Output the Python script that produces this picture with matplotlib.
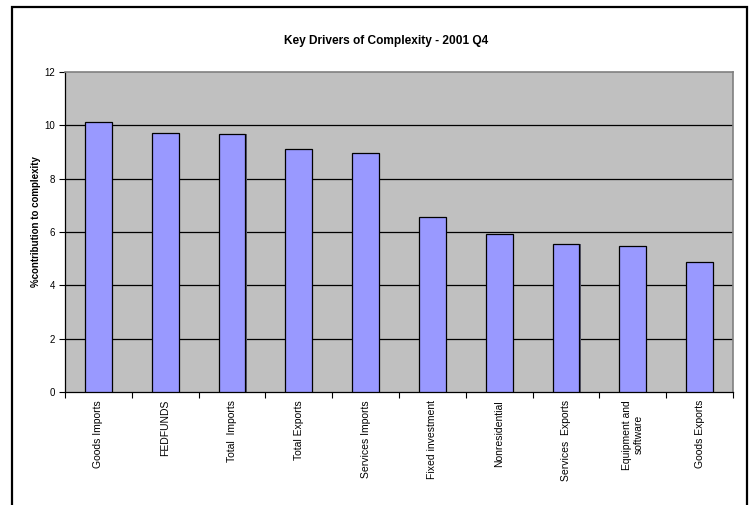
import matplotlib
matplotlib.use("Agg")
import matplotlib.pyplot as plt
from matplotlib.patches import Rectangle
import numpy as np

categories = ["Goods Imports", "FEDFUNDS", "Total  Imports", "Total Exports",
              "Services Imports", "Fixed investment", "Nonresidential",
              "Services  Exports", "Equipment and\nsoftware", "Goods Exports"]
values = [10.11, 9.73, 9.69, 9.10, 8.95, 6.57, 5.91, 5.56, 5.47, 4.86]
yticks = [0, 2, 4, 6, 8, 10, 12]
title = "Key Drivers of Complexity - 2001 Q4"
ylabel = "%contribution to complexity"

plt.rcParams['font.family'] = ['Liberation Sans', 'DejaVu Sans']

fig = plt.figure(figsize=(7.5, 5.05), dpi=100)
fig.patch.set_facecolor('white')

# outer chart border (open at bottom, extends past image)
fig.add_artist(Rectangle((12/750, -0.05), (747-12)/750, 1.05 - 7/505,
                         transform=fig.transFigure, fill=False,
                         edgecolor='black', linewidth=1.6))

ax = fig.add_axes([65/750, 1-392/505, (733-65)/750, (392-72)/505])
ax.set_facecolor('#C0C0C0')
x = np.arange(len(categories))
w = 0.4
# shadow
ax.bar(x + 0.02, values, width=w, color='#5a5a6a', edgecolor='none', zorder=2)
ax.bar(x, values, width=w, color='#9999FF', edgecolor='black', linewidth=0.9, zorder=3)

ax.set_xlim(-0.5, len(categories) - 0.5)
ax.set_ylim(0, 12)
ax.set_yticks(yticks)
ax.set_yticklabels([str(v) for v in yticks], fontsize=7)
for v in yticks[1:-1]:
    ax.axhline(v, color='black', linewidth=0.9, zorder=1)

ax.set_xticks(np.arange(len(categories) + 1) - 0.5)
ax.set_xticklabels([])
ax.tick_params(axis='x', direction='out', length=4, width=0.8, color='black')
ax.tick_params(axis='y', direction='out', length=4, width=0.8, color='black', pad=3)

for i, c in enumerate(categories):
    ax.text(i, -0.3, c, rotation=90, ha='center', va='top', fontsize=7.5,
            multialignment='center', transform=ax.transData)

for s in ['top', 'right']:
    ax.spines[s].set_color('#808080')
    ax.spines[s].set_linewidth(1.2)
for s in ['left', 'bottom']:
    ax.spines[s].set_color('black')
    ax.spines[s].set_linewidth(0.9)

fig.text(36/750, 1-222/505, ylabel, rotation=90, ha='center', va='center',
         fontsize=7, fontweight='bold')
fig.text(386/750, 1-41/505, title, ha='center', va='center', fontsize=8.6, fontweight='bold')

fig.savefig("out.png", dpi=100)
